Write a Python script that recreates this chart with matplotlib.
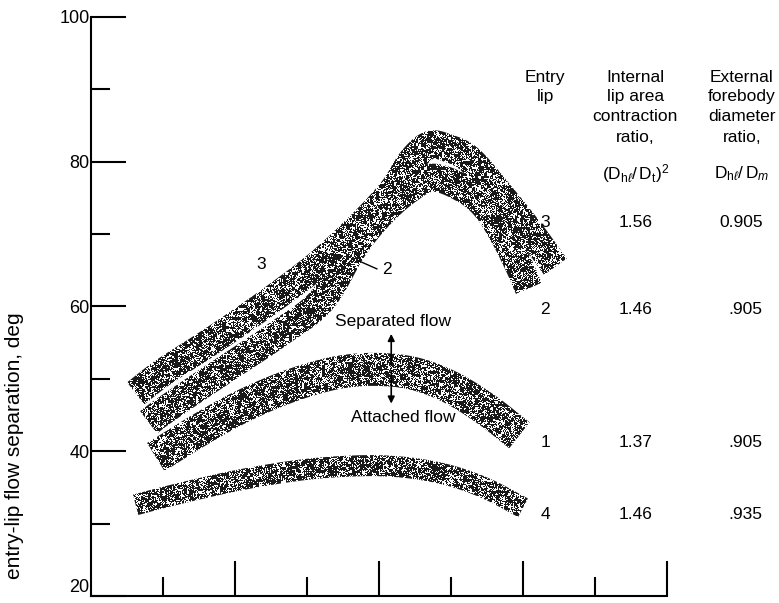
import numpy as np
import matplotlib
matplotlib.use("Agg")
import matplotlib.pyplot as plt
from matplotlib.patches import Polygon

plt.rcParams['font.family'] = ['Liberation Sans', 'DejaVu Sans']
plt.rcParams['mathtext.fontset'] = 'custom'
plt.rcParams['mathtext.rm'] = 'Liberation Sans'
plt.rcParams['mathtext.it'] = 'Liberation Sans:italic'

# ---- data: centre-lines of the scatter bands (x in axis tick units, y in deg)
lip3_x = [0.62, 1.0, 1.5, 2.0, 2.6, 3.2, 3.8, 4.2, 4.45, 4.7, 4.95, 5.26, 5.68, 6.1, 6.45]
lip3_y = [48.0, 50.9, 54.1, 57.4, 61.6, 66.2, 71.8, 76.2, 80.1, 82.3, 81.9, 80.3, 75.5, 70.3, 65.5]

lip2_x = [0.8, 1.0, 1.5, 2.0, 2.6, 3.2, 3.64, 4.0, 4.39, 4.75, 5.2, 5.5, 5.75, 5.95, 6.08]
lip2_y = [44.0, 45.5, 48.9, 52.2, 56.2, 60.8, 68.0, 72.5, 76.0, 77.8, 76.1, 73.5, 69.5, 65.5, 62.5]

lip1_x = [0.9, 1.5, 2.0, 2.5, 3.0, 3.5, 4.0, 4.5, 5.0, 5.5, 5.95]
lip1_y = [39.2, 42.9, 45.7, 48.0, 49.8, 51.0, 51.3, 50.7, 48.8, 45.7, 42.2]

lip4_x = [0.62, 1.0, 1.5, 2.0, 2.5, 3.0, 3.5, 4.0, 4.5, 5.0, 5.5, 6.0]
lip4_y = [32.6, 33.6, 34.8, 35.9, 36.8, 37.5, 37.9, 38.0, 37.6, 36.6, 34.8, 32.2]

# table of entry-lip configurations
lip_ids = ["3", "2", "1", "4"]
area_ratio = ["1.56", "1.46", "1.37", "1.46"]
diam_ratio = ["0.905", ".905", ".905", ".935"]
row_y = [71.6, 59.6, 41.2, 31.3]

y_major = [20, 40, 60, 80, 100]
y_minor = [30, 50, 70, 90]
x_major = [2, 4, 6, 8]
x_minor = [1, 3, 5, 7]

# ---- figure / axes
W_PX, H_PX = 779, 603
fig = plt.figure(figsize=(W_PX / 100, H_PX / 100), dpi=100)
ax_l, ax_r, ax_b, ax_t = 91, 779, 596, 17
ax = fig.add_axes([ax_l / W_PX, (H_PX - ax_b) / H_PX,
                   (ax_r - ax_l) / W_PX, (ax_b - ax_t) / H_PX])
x_unit_px = 72.0
xmax = (ax_r - ax_l) / x_unit_px
ax.set_xlim(0, xmax)
ax.set_ylim(20, 100)
sx = x_unit_px
sy = (ax_b - ax_t) / 80.0

for s in ("top", "right"):
    ax.spines[s].set_visible(False)
ax.spines["bottom"].set_bounds(0, 8)
ax.spines["left"].set_bounds(20, 100)
for s in ("bottom", "left"):
    ax.spines[s].set_linewidth(1.5)

ax.set_xticks(x_major)
ax.set_xticks(x_minor, minor=True)
ax.set_yticks(y_major)
ax.set_yticks(y_minor, minor=True)
ax.tick_params(axis="both", which="major", direction="in", length=25, width=1.5)
ax.tick_params(axis="both", which="minor", direction="in", length=14, width=1.5)
ax.tick_params(axis="x", labelbottom=False)
ax.tick_params(axis="y", labelsize=13, pad=1)
ax.set_yticklabels([str(v) for v in y_major])
ax.get_yticklabels()[0].set_va("bottom")


def catmull_rom(xs, ys, n=24):
    p = np.column_stack([np.asarray(xs) * sx, np.asarray(ys) * sy])
    p = np.vstack([2 * p[0] - p[1], p, 2 * p[-1] - p[-2]])
    out = []
    t = np.linspace(0, 1, n, endpoint=False)[:, None]
    for i in range(1, len(p) - 2):
        p0, p1, p2, p3 = p[i - 1], p[i], p[i + 1], p[i + 2]
        seg = 0.5 * ((2 * p1) + (-p0 + p2) * t
                     + (2 * p0 - 5 * p1 + 4 * p2 - p3) * t ** 2
                     + (-p0 + 3 * p1 - 3 * p2 + p3) * t ** 3)
        out.append(seg)
    out.append(p[-2][None, :])
    return np.vstack(out)


def band_polygon(xs, ys, width_px):
    c = catmull_rom(xs, ys)
    d = np.gradient(c, axis=0)
    d /= np.linalg.norm(d, axis=1)[:, None]
    nrm = np.column_stack([-d[:, 1], d[:, 0]])
    up = c + nrm * width_px / 2
    lo = c - nrm * width_px / 2
    verts = np.vstack([up, lo[::-1]])
    return np.column_stack([verts[:, 0] / sx, verts[:, 1] / sy])


# stippled texture shared by all bands
rng = np.random.default_rng(11)
H, W = ax_b - ax_t, ax_r - ax_l
fine = rng.random((H, W))
coarse = rng.random((H // 3 + 1, W // 3 + 1)).repeat(3, 0).repeat(3, 1)[:H, :W]
tex = 0.6 * fine + 0.4 * coarse
stipple = np.where(tex < 0.6, 0.1, 1.0)

bands = [(lip3_x, lip3_y, 28), (lip2_x, lip2_y, 28),
         (lip1_x, lip1_y, 33), (lip4_x, lip4_y, 21)]
for bx, by, w in bands:
    verts = band_polygon(bx, by, w)
    patch = Polygon(verts, closed=True, facecolor="none", edgecolor="none",
                    transform=ax.transData)
    ax.add_patch(patch)
    im = ax.imshow(stipple, cmap="gray", vmin=0, vmax=1, origin="lower",
                   extent=(0, xmax, 20, 100), aspect="auto",
                   interpolation="nearest", zorder=2)
    im.set_clip_path(patch)

# ---- annotations
fs = 12.5
ax.text(2.37, 65.8, "3", fontsize=fs, ha="center", va="center")
ax.plot([3.72, 3.97], [66.3, 65.2], color="black", lw=1.0, zorder=3)
ax.text(4.11, 65.1, "2", fontsize=fs, ha="center", va="center")

ax.text(4.19, 57.9, "Separated flow", fontsize=fs, ha="center", va="center")
ax.text(4.34, 44.7, "Attached flow", fontsize=fs, ha="center", va="center")
ax.annotate("", xy=(4.17, 56.6), xytext=(4.17, 51.5),
            arrowprops=dict(arrowstyle="-|>", color="black", lw=1.2,
                            mutation_scale=10), zorder=4)
ax.annotate("", xy=(4.17, 46.2), xytext=(4.17, 51.5),
            arrowprops=dict(arrowstyle="-|>", color="black", lw=1.2,
                            mutation_scale=10), zorder=4)

# ---- table headings
col_lip, col_area, col_diam = 6.31, 7.56, 9.04
head_y = [91.7, 89.0, 86.3, 83.4]
for txt, yy in zip(["Entry", "lip"], head_y):
    ax.text(col_lip, yy, txt, fontsize=fs, ha="center", va="center")
for txt, yy in zip(["Internal", "lip area", "contraction", "ratio,"], head_y):
    ax.text(col_area, yy, txt, fontsize=fs, ha="center", va="center")
for txt, yy in zip(["External", "forebody", "diameter", "ratio,"], head_y):
    ax.text(col_diam, yy, txt, fontsize=fs, ha="center", va="center")
ax.text(col_area, 78.4, r"$(\mathrm{D}_{\mathrm{h}\ell}/\,\mathrm{D}_{\mathrm{t}})^{2}$",
        fontsize=fs, ha="center", va="center")
ax.text(col_diam, 78.4, r"$\mathrm{D}_{\mathrm{h}\ell}/\,\mathrm{D}_{m}$",
        fontsize=fs, ha="center", va="center")

for lid, ar, dr, yy in zip(lip_ids, area_ratio, diam_ratio, row_y):
    ax.text(col_lip, yy, lid, fontsize=fs, ha="center", va="center")
    ax.text(col_area, yy, ar, fontsize=fs, ha="center", va="center")
    ax.text(9.33, yy, dr, fontsize=fs, ha="right", va="center")

fig.text(15 / W_PX, 1 - 446 / H_PX, "entry-lip flow separation, deg",
         rotation=90, ha="center", va="center", fontsize=15)

fig.savefig("out.png", dpi=100)
